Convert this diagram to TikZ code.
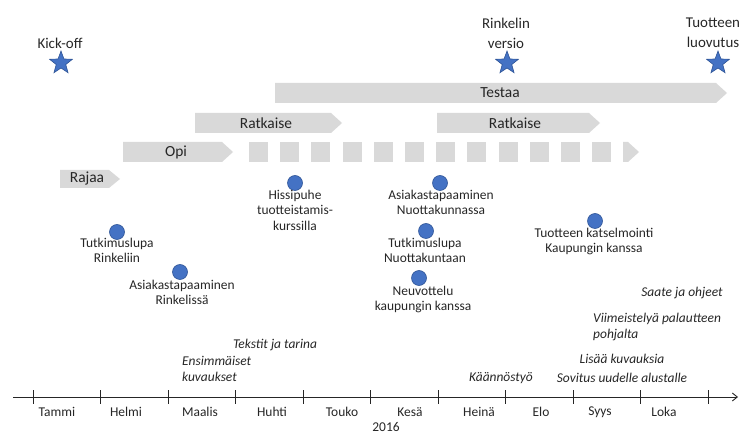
\documentclass[tikz,border=0pt]{standalone}
\usepackage{fontspec}
\setmainfont{Carlito}
\usetikzlibrary{shapes.geometric,arrows.meta}
\definecolor{bargray}{HTML}{D9D9D9}
\definecolor{dotblue}{HTML}{4472C4}
\definecolor{dotedge}{HTML}{2F5597}
\definecolor{txt}{HTML}{262626}
\newcommand\phasebar[4]{\fill[bargray] (#1,#3-#4) -- (#2-11,#3-#4) -- (#2,#3) -- (#2-11,#3+#4) -- (#1,#3+#4) -- cycle;}
\begin{document}
\begin{tikzpicture}[x=1bp,y=-1bp,
  lbl/.style={font=\fontsize{13.5}{15.5}\selectfont, text=txt, inner sep=0pt, align=center},
  barlbl/.style={font=\fontsize{15.5}{18}\selectfont, text=txt, inner sep=0pt, align=center},
  ital/.style={font=\fontsize{13.5}{16}\selectfont\itshape, text=txt, inner sep=0pt, align=left},
  msl/.style={font=\fontsize{15}{20}\selectfont, text=txt, inner sep=0pt, align=center},
  milestone/.style={star, star points=5, star point ratio=2.4, minimum size=24bp, inner sep=0pt, fill=dotblue, draw=dotedge, line width=0.6pt},
  event/.style={circle, minimum size=15bp, inner sep=0pt, fill=dotblue, draw=dotedge, line width=0.6pt},
  axtick/.style={draw=txt, line width=0.9pt}
]
\useasboundingbox (0,0) rectangle (748,436);

% milestones
\node[msl] (kotxt) at (60,43) {Kick-off};
\node[milestone] (ko) at (61,63) {};
\node[msl] (rvtxt) at (506,33) {Rinkelin\\versio};
\node[milestone] (rv) at (507,63) {};
\node[msl] (tltxt) at (713,33) {Tuotteen\\luovutus};
\node[milestone] (tl) at (718,63) {};

% phase bars
\phasebar{275}{727}{93}{10}
\node[barlbl] (testaa) at (500,93) {Testaa};
\phasebar{195}{342}{123}{10}
\node[barlbl] (rat1) at (266,123) {Ratkaise};
\phasebar{437}{600}{123}{10}
\node[barlbl] (rat2) at (515,123) {Ratkaise};
\phasebar{123}{233}{152}{10}
\node[barlbl] (opi) at (176,152) {Opi};
\foreach \i in {0,...,11} {
  \fill[bargray] (249+31.2*\i,142) rectangle (268+31.2*\i,162);
}
\fill[bargray] (623,142) -- (628,142) -- (639,152) -- (628,162) -- (623,162) -- cycle;
\phasebar{60}{120}{179}{9}
\node[barlbl] (rajaa) at (87,179) {Rajaa};

% events
\node[event] (e1) at (295,183) {};
\node[lbl, anchor=north] (e1t) at (295,190) {Hissipuhe\\tuotteistamis-\\kurssilla};
\node[event] (e2) at (117,232) {};
\node[lbl, anchor=north] (e2t) at (117,238) {Tutkimuslupa\\Rinkeliin};
\node[event] (e3) at (180,272) {};
\node[lbl, anchor=north] (e3t) at (182,280) {Asiakastapaaminen\\Rinkelissä};
\node[event] (e4) at (440,183) {};
\node[lbl, anchor=north] (e4t) at (441,190) {Asiakastapaaminen\\Nuottakunnassa};
\node[event] (e5) at (426,231) {};
\node[lbl, anchor=north] (e5t) at (425,238) {Tutkimuslupa\\Nuottakuntaan};
\node[event] (e6) at (419,278) {};
\node[lbl, anchor=north] (e6t) at (423,286) {Neuvottelu\\kaupungin kanssa};
\node[event] (e7) at (595,221) {};
\node[lbl, anchor=north] (e7t) at (594,228) {Tuotteen katselmointi\\Kaupungin kanssa};

% italic work items
\node[ital, anchor=center] (w1) at (275,345) {Tekstit ja tarina};
\node[ital, anchor=north west] (w2) at (182,356) {Ensimmäiset\\kuvaukset};
\node[ital] (w3) at (501,378) {Käännöstyö};
\node[ital] (w4) at (622,378) {Sovitus uudelle alustalle};
\node[ital] (w5) at (622,359) {Lisää kuvauksia};
\node[ital, anchor=north west] (w6) at (593,313) {Viimeistelyä palautteen\\pohjalta};
\node[ital] (w7) at (682,293) {Saate ja ohjeet};

% axis
\coordinate (ax0) at (13,397);
\coordinate (ax1) at (738,397);
\draw[txt, line width=0.9pt, -{Straight Barb[length=5bp,width=8bp]}] (ax0) -- (ax1);
\foreach \x in {33,100.5,168,235.5,303,370.5,438,505.5,573,640.5,708} {
  \draw[axtick] (\x,390) -- (\x,404);
}
\foreach \x/\m in {57/Tammi,126/Helmi,200/Maalis,272/Huhti,342/Touko,410/Kesä,479/Heinä,541/Elo,600/Syys,664/Loka} {
  \node[lbl] at (\x,412) {\m};
}
\node[lbl] (year) at (386,427) {2016};
\end{tikzpicture}
\end{document}
